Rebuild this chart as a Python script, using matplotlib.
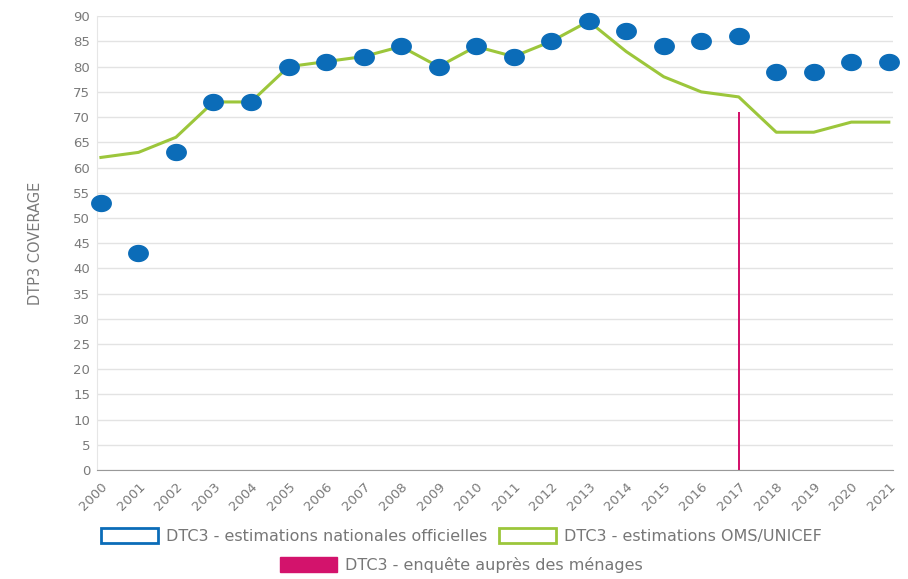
import numpy as np
import matplotlib.pyplot as plt
from matplotlib.patches import Patch
from matplotlib.path import Path

# Data
years = list(range(2000, 2022))
national = [53, 43, 63, 73, 73, 80, 81, 82, 84, 80, 84, 82, 85, 89, 87, 84, 85, 86, 79, 79, 81, 81]
who_unicef = [62, 63, 66, 73, 73, 80, 81, 82, 84, 80, 84, 82, 85, 89, 83, 78, 75, 74, 67, 67, 69, 69]
survey_years = [2017]
survey_values = [71]

blue = "#0b6cb8"
green = "#9cc63b"
magenta = "#d3136c"

# slightly flattened dot, like the reference
t = np.linspace(0, 2 * np.pi, 60)
ellipse = Path(np.column_stack([np.cos(t), 0.82 * np.sin(t)]), closed=True)

fig = plt.figure(figsize=(9.08, 5.79), dpi=100)
ax = fig.add_axes([0.107, 0.188, 0.876, 0.784])

# Survey bar (thin vertical)
ax.bar(survey_years, survey_values, width=0.06, color=magenta, zorder=2)

# WHO/UNICEF line
ax.plot(years, who_unicef, color=green, lw=2.2, zorder=3)

# National estimates as dots
ax.plot(years, national, linestyle="none", marker=ellipse, markersize=14,
        color=blue, zorder=4, clip_on=False)

ax.set_xlim(1999.9, 2021.1)
ax.set_ylim(0, 90)
ax.set_yticks(np.arange(0, 91, 5))
ax.set_xticks(years)
ax.set_xticklabels([str(y) for y in years], rotation=45, ha="right",
                   rotation_mode="anchor")
ax.tick_params(axis="both", colors="#7a7a7a", labelsize=9.5, length=0, pad=5)
ax.tick_params(axis="x", pad=7)
ax.yaxis.grid(True, color="#e3e3e3", lw=1)
ax.set_axisbelow(True)
for s in ["top", "right"]:
    ax.spines[s].set_visible(False)
ax.spines["left"].set_color("#e6e6e6")
ax.spines["bottom"].set_color("#999999")
ax.set_ylabel("DTP3 COVERAGE", color="#7a7a7a", fontsize=10.5, labelpad=22)

# Legend below the plot
h1 = [Patch(facecolor="white", edgecolor=blue, lw=2,
            label="DTC3 - estimations nationales officielles"),
      Patch(facecolor="white", edgecolor=green, lw=2,
            label="DTC3 - estimations OMS/UNICEF")]
h2 = [Patch(facecolor=magenta, edgecolor=magenta,
            label="DTC3 - enquête auprès des ménages")]
leg1 = fig.legend(handles=h1, loc="center", bbox_to_anchor=(0.508, 0.074), ncol=2,
                  frameon=False, fontsize=11.5, handlelength=3.6, handleheight=1.05,
                  columnspacing=0.7, handletextpad=0.5, labelcolor="#777777")
leg2 = fig.legend(handles=h2, loc="center", bbox_to_anchor=(0.508, 0.024),
                  frameon=False, fontsize=11.5, handlelength=3.6, handleheight=1.05,
                  handletextpad=0.5, labelcolor="#777777")

fig.savefig("out.png", dpi=100)
